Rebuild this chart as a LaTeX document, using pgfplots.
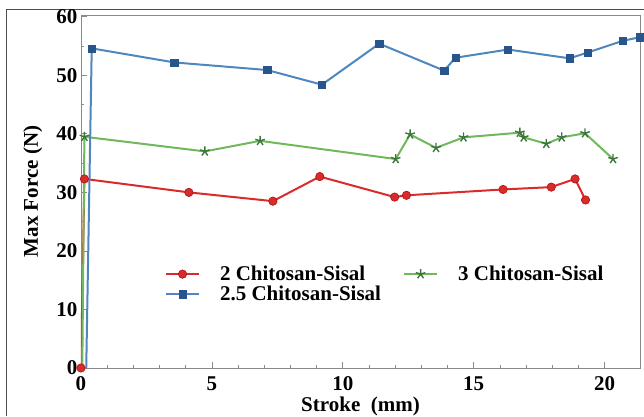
\documentclass[border=0pt]{standalone}
\usepackage{pgfplots}
\pgfplotsset{compat=1.18}
\usepackage{fontspec}
\setmainfont{Liberation Serif}

\definecolor{cred}{RGB}{218,42,42}
\definecolor{credm}{RGB}{170,20,20}
\definecolor{cblue}{RGB}{80,134,190}
\definecolor{cbluem}{RGB}{40,86,140}
\definecolor{cgreen}{RGB}{112,184,92}
\definecolor{cgreenm}{RGB}{58,118,58}
\definecolor{frame}{RGB}{138,138,138}

\begin{document}
\begin{tikzpicture}
\useasboundingbox (-81pt,-48pt) rectangle (563pt,368pt);
% outer frame of the figure
\draw[black!70, line width=1pt] (-74pt,-48pt) -- (-74pt,358pt) -- (563pt,358pt);
\begin{axis}[
  scale only axis,
  width=559pt, height=353pt,
  xmin=0, xmax=21.35,
  ymin=0, ymax=60.3,
  xtick={0,5,10,15,20},
  ytick={0,10,20,30,40,50,60},
  minor x tick num=4,
  minor y tick num=1,
  tick pos=left,
  tick align=inside,
  major tick length=6pt,
  minor tick length=3pt,
  axis line style={frame, line width=0.9pt},
  every tick/.style={frame, line width=0.8pt},
  /pgf/number format/assume math mode=true,
  tick label style={font=\fontsize{21}{23}\selectfont\bfseries},
  xticklabel style={yshift=-5pt},
  label style={font=\fontsize{21}{24}\selectfont\bfseries},
  xlabel={Stroke~~(mm)},
  ylabel={Max Force (N)},
  xlabel style={at={(axis description cs:0.5,0)}, anchor=center, yshift=-38pt},
  ylabel style={at={(axis description cs:-0.086,0.5)}, anchor=center},
  legend columns=2,
  legend style={
    at={(rel axis cs:0.15,0.295)}, anchor=north west, draw=none,
    fill=none, font=\fontsize{21}{23}\selectfont\bfseries,
    legend cell align=left, inner sep=0pt,
    /tikz/every odd column/.append style={column sep=18pt},
    /tikz/every even column/.append style={column sep=20pt},
    row sep=0pt
  },
  legend image code/.code={
    \draw[mark repeat=2,mark phase=2] plot coordinates {(0cm,0cm) (0.58cm,0cm) (1.16cm,0cm)};
  },
]
% 2 Chitosan-Sisal
\addplot[color=cred, line width=2pt, mark=*, mark size=4.2pt,
  mark options={fill=cred, draw=credm, line width=0.6pt}] coordinates {
  (0,0) (0.13,32.3) (4.12,30.0) (7.33,28.5) (9.12,32.7)
  (11.98,29.2) (12.43,29.5) (16.12,30.5) (17.96,30.9)
  (18.87,32.3) (19.27,28.7)
};
% 3 Chitosan-Sisal: initial rise, then measured points
\addplot[color=cgreen, line width=2pt, forget plot] coordinates {
  (0.05,0) (0.13,39.5)
};
\addplot[color=cgreen, line width=2pt, mark=star, mark size=5pt,
  mark options={draw=cgreenm, line width=1.4pt}] coordinates {
  (0.13,39.5) (4.73,37.0) (6.84,38.8) (12.02,35.7)
  (12.57,39.9) (13.56,37.6) (14.61,39.4) (16.76,40.2)
  (16.91,39.4) (17.77,38.3) (18.36,39.4) (19.25,40.1) (20.32,35.7)
};
% 2.5 Chitosan-Sisal: initial rise, then measured points
\addplot[color=cblue, line width=2pt, forget plot] coordinates {
  (0.2,0) (0.41,54.6)
};
\addplot[color=cblue, line width=2pt, mark=square*, mark size=3.6pt,
  mark options={fill=cbluem, draw=cbluem, line width=0.5pt}] coordinates {
  (0.41,54.6) (3.56,52.2) (7.11,50.9) (9.20,48.4)
  (11.39,55.4) (13.87,50.8) (14.30,53.0) (16.31,54.4)
  (18.66,52.9) (19.36,53.9) (20.70,55.9) (21.34,56.5)
};
\legend{2 Chitosan-Sisal, 3 Chitosan-Sisal, 2.5 Chitosan-Sisal}
\end{axis}
\end{tikzpicture}
\end{document}
